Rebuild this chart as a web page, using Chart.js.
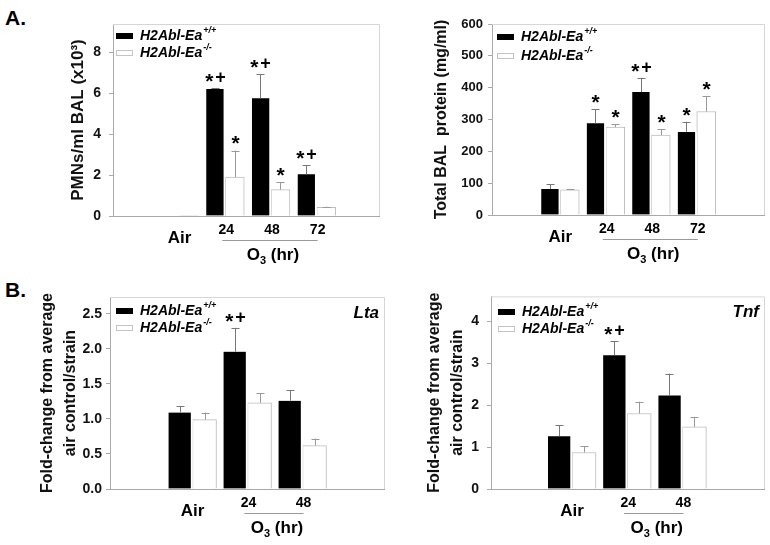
<!DOCTYPE html>
<html>
<head>
<meta charset="utf-8">
<script src="https://cdn.jsdelivr.net/npm/chart.js@4.4.1/dist/chart.umd.min.js"></script>
<style>
body { margin: 0; background: #fff; }
#wrap { position: relative; width: 770px; height: 545px; font-family: "Liberation Sans", Arial, sans-serif; }
canvas { position: absolute; }
.tag { position: absolute; font-weight: bold; font-size: 21px; line-height: 24px; }
</style>
</head>
<body>
<div id="wrap">
  <div class="tag" style="left:5px;top:6px">A.</div>
  <div class="tag" style="left:5px;top:278px">B.</div>
  <canvas id="pmn" width="385" height="280" style="left:0;top:0"></canvas>
  <canvas id="protein" width="385" height="280" style="left:385px;top:0"></canvas>
  <canvas id="lta" width="385" height="265" style="left:0;top:280px"></canvas>
  <canvas id="tnf" width="385" height="265" style="left:385px;top:280px"></canvas>
</div>
<script>
const FONT = '"Liberation Sans", Arial, sans-serif';

const strainNames = ['H2Abl-Ea', 'H2Abl-Ea'];
const strainSups = ['+/+', '-/-'];

// A. BAL time course
const timeLabels = ['Air', '24', '48', '72'];
const pmnWild = [0, 6.22, 5.76, 2.04];
const pmnWildErr = [0, 0.04, 1.19, 0.46];
const pmnKnock = [0.03, 1.9, 1.29, 0.43];
const pmnKnockErr = [0, 1.3, 0.37, 0.03];
const pmnWildMarks = ['', '*+', '*+', '*+'];
const pmnKnockMarks = ['', '*', '*', ''];

const protWild = [82, 288, 386, 261];
const protWildErr = [14, 44, 45, 32];
const protKnock = [79, 276, 251, 325];
const protKnockErr = [2, 9, 18, 48];
const protWildMarks = ['', '*', '*+', '*'];
const protKnockMarks = ['', '*', '*', '*'];

// B. gene expression
const geneLabels = ['Air', '24', '48'];
const ltaWild = [1.09, 1.96, 1.26];
const ltaWildErr = [0.09, 0.34, 0.15];
const ltaKnock = [0.99, 1.23, 0.62];
const ltaKnockErr = [0.1, 0.14, 0.1];
const ltaWildMarks = ['', '*+', ''];
const ltaKnockMarks = ['', '', ''];

const tnfWild = [1.26, 3.19, 2.23];
const tnfWildErr = [0.26, 0.33, 0.52];
const tnfKnock = [0.87, 1.80, 1.48];
const tnfKnockErr = [0.15, 0.28, 0.24];
const tnfWildMarks = ['', '*+', ''];
const tnfKnockMarks = ['', '', ''];

// draw "*" and "+" so both sit on the same centre line
function drawMark(ctx, text, cx, cy) {
    const gap = 2;
    const parts = text.split('').map(ch => {
        ctx.font = (ch === '*' ? 'bold 21px ' : 'bold 18px ') + FONT;
        return {ch: ch, w: ctx.measureText(ch).width};
    });
    let sx = cx - (parts.reduce((s, p) => s + p.w, 0) + gap * (parts.length - 1)) / 2;
    ctx.textAlign = 'left';
    ctx.textBaseline = 'middle';
    parts.forEach(p => {
        ctx.font = (p.ch === '*' ? 'bold 21px ' : 'bold 18px ') + FONT;
        ctx.fillText(p.ch, sx, p.ch === '*' ? cy + 4 : cy);
        sx += p.w + gap;
    });
}

const extras = {
    id: 'extras',
    afterDatasetsDraw(chart, args, o) {
        const {ctx, chartArea: a, scales: {x, y}} = chart;
        ctx.save();
        ctx.lineWidth = 1;

        // frame: light top/right, grey bottom axis
        ctx.strokeStyle = '#d6d6d6';
        ctx.beginPath();
        ctx.moveTo(a.left, a.top + 0.5);
        ctx.lineTo(a.right - 0.5, a.top + 0.5);
        ctx.lineTo(a.right - 0.5, a.bottom);
        ctx.stroke();
        ctx.strokeStyle = '#a8a8a8';
        ctx.beginPath();
        ctx.moveTo(a.left, a.bottom + 0.5);
        ctx.lineTo(a.right, a.bottom + 0.5);
        ctx.stroke();

        // error bars + significance marks
        ctx.fillStyle = '#000';
        chart.data.datasets.forEach((ds, di) => {
            chart.getDatasetMeta(di).data.forEach((bar, i) => {
                const top = y.getPixelForValue(ds.data[i].y + ds.errors[i]);
                const cx = Math.round(bar.x - (di === 0 ? 1 : 0)) + 0.5;
                if (ds.errors[i] > 0) {
                    ctx.strokeStyle = ds.errColor;
                    ctx.beginPath();
                    ctx.moveTo(cx, bar.y);
                    ctx.lineTo(cx, top);
                    ctx.moveTo(cx - 4, Math.round(top) + 0.5);
                    ctx.lineTo(cx + 4, Math.round(top) + 0.5);
                    ctx.stroke();
                }
                if (ds.marks[i]) {
                    drawMark(ctx, ds.marks[i], cx, Math.min(top, bar.y) - o.markGap);
                }
            });
        });

        // category labels
        const labels = chart.data.labels;
        const last = labels.length - 1;
        ctx.fillStyle = '#000';
        ctx.textAlign = 'center';
        ctx.textBaseline = 'middle';
        labels.forEach((lab, i) => {
            const px = x.getPixelForValue(i);
            if (i === 0) {
                ctx.font = 'bold 17px ' + FONT;
                ctx.fillText(lab, px, a.bottom + 22);
            } else {
                ctx.font = 'bold 14px ' + FONT;
                ctx.fillText(lab, px + 1, a.bottom + 14);
            }
        });
        const x1 = x.getPixelForValue(1), x2 = x.getPixelForValue(last);
        ctx.strokeStyle = '#999';
        ctx.beginPath();
        ctx.moveTo(x1 - 3, a.bottom + 24.5);
        ctx.lineTo(x2 + 1, a.bottom + 24.5);
        ctx.stroke();

        // O3 (hr)
        const ty = a.bottom + 39;
        ctx.textAlign = 'left';
        ctx.font = 'bold 17px ' + FONT;
        const wO = ctx.measureText('O').width, wR = ctx.measureText(' (hr)').width;
        ctx.font = 'bold 11px ' + FONT;
        const w3 = ctx.measureText('3').width;
        let sx = (x1 + x2) / 2 + 2 - (wO + w3 + wR) / 2;
        ctx.font = 'bold 17px ' + FONT;
        ctx.fillText('O', sx, ty);
        ctx.font = 'bold 11px ' + FONT;
        ctx.fillText('3', sx + wO, ty + 6);
        ctx.font = 'bold 17px ' + FONT;
        ctx.fillText(' (hr)', sx + wO + w3, ty);

        // legend
        chart.data.datasets.forEach((ds, i) => {
            const ly = o.legY + i * o.legGap;
            if (i === 0) {
                ctx.fillStyle = '#000';
                ctx.fillRect(o.legX, ly - 3, 17, 6);
            } else {
                ctx.strokeStyle = '#c4c4c4';
                ctx.strokeRect(o.legX + 0.5, ly - 2.5, 16, 5);
            }
            ctx.fillStyle = '#000';
            ctx.textAlign = 'left';
            ctx.textBaseline = 'middle';
            ctx.font = 'italic bold 14px ' + FONT;
            ctx.fillText(ds.label, o.legX + 24, ly);
            const w = ctx.measureText(ds.label).width;
            ctx.font = 'italic bold 9px ' + FONT;
            ctx.fillText(ds.sup, o.legX + 25 + w, ly - 5);
        });

        if (o.gene) {
            ctx.font = 'italic bold 17px ' + FONT;
            ctx.textAlign = 'right';
            ctx.fillText(o.gene, a.right - 6, a.top + 16);
        }
        ctx.restore();
    }
};

function pts(vals) {
    return vals.map((v, i) => ({x: i, y: v}));
}

function makePanel(id, p) {
    const datasets = [
        {
            label: strainNames[0], sup: strainSups[0],
            data: pts(p.wild), errors: p.wildErr, marks: p.wildMarks,
            backgroundColor: '#000', borderColor: '#fff',
            borderWidth: {left: 0, top: 0, bottom: 0, right: 2},
            barThickness: p.thick, errColor: '#777'
        },
        {
            label: strainNames[1], sup: strainSups[1],
            data: pts(p.knock), errors: p.knockErr, marks: p.knockMarks,
            backgroundColor: '#fff', borderColor: '#bdbdbd', borderWidth: 1,
            barThickness: p.thick, errColor: '#999'
        }
    ];
    return new Chart(document.getElementById(id), {
        type: 'bar',
        data: {labels: p.labels, datasets: datasets},
        options: {
            responsive: false,
            animation: false,
            devicePixelRatio: 1,
            layout: {padding: p.pad},
            scales: {
                x: {type: 'linear', display: false, min: p.xMin, max: p.xMax},
                y: {
                    min: 0, max: p.yMax,
                    afterFit: s => { s.width = p.yWidth; },
                    ticks: {
                        stepSize: p.step, includeBounds: false, padding: p.tickPad,
                        color: '#111', font: {family: FONT, size: p.tickSize, weight: 'bold'},
                        callback: p.fmt || (v => v)
                    },
                    grid: {drawOnChartArea: false, tickLength: 4, color: '#aaa'},
                    border: {color: '#aaa'},
                    title: {
                        display: true, text: p.title, color: '#111',
                        font: {family: FONT, size: p.titleSize, weight: 'bold', lineHeight: p.titleLH},
                        padding: {top: p.titlePad, bottom: 0}
                    }
                }
            },
            plugins: {
                legend: {display: false},
                tooltip: {enabled: false},
                extras: {legX: p.legX, legY: p.legY, legGap: p.legGap, markGap: 10, gene: p.gene}
            }
        },
        plugins: [extras]
    });
}

makePanel('pmn', {
    labels: timeLabels, wild: pmnWild, wildErr: pmnWildErr, knock: pmnKnock, knockErr: pmnKnockErr,
    wildMarks: pmnWildMarks, knockMarks: pmnKnockMarks,
    yMax: 9.4, step: 2, title: 'PMNs/ml BAL (x10\u00B3)', titleSize: 17, titleLH: 1.2, titlePad: 68,
    pad: {top: 24, right: 5, bottom: 64, left: 0}, yWidth: 113, xMin: -0.97, xMax: 3.9,
    thick: 19, tickSize: 14, tickPad: 8, legX: 116, legY: 36, legGap: 17
});

makePanel('protein', {
    labels: timeLabels, wild: protWild, wildErr: protWildErr, knock: protKnock, knockErr: protKnockErr,
    wildMarks: protWildMarks, knockMarks: protKnockMarks,
    yMax: 600, step: 100, title: 'Total BAL  protein (mg/ml)', titleSize: 16, titleLH: 1.2, titlePad: 47,
    pad: {top: 24, right: 5, bottom: 65, left: 0}, yWidth: 107, xMin: -1, xMax: 4,
    thick: 19, tickSize: 13, tickPad: 5, legX: 112, legY: 37, legGap: 19
});

makePanel('lta', {
    labels: geneLabels, wild: ltaWild, wildErr: ltaWildErr, knock: ltaKnock, knockErr: ltaKnockErr,
    wildMarks: ltaWildMarks, knockMarks: ltaKnockMarks,
    yMax: 2.74, step: 0.5, fmt: v => v.toFixed(1),
    title: ['Fold-change from average', 'air control/strain'], titleSize: 16, titleLH: 1.45, titlePad: 36,
    pad: {top: 17, right: 0, bottom: 56, left: 0}, yWidth: 110, xMin: -1, xMax: 3,
    thick: 24, tickSize: 14, tickPad: 4, legX: 116, legY: 31, legGap: 17, gene: 'Lta'
});

makePanel('tnf', {
    labels: geneLabels, wild: tnfWild, wildErr: tnfWildErr, knock: tnfKnock, knockErr: tnfKnockErr,
    wildMarks: tnfWildMarks, knockMarks: tnfKnockMarks,
    yMax: 4.59, step: 1,
    title: ['Fold-change from average', 'air control/strain'], titleSize: 16, titleLH: 1.45, titlePad: 38,
    pad: {top: 14, right: 5, bottom: 56, left: 0}, yWidth: 106, xMin: -0.97, xMax: 3,
    thick: 24, tickSize: 14, tickPad: 8, legX: 113, legY: 32, legGap: 17, gene: 'Tnf'
});
</script>
</body>
</html>
